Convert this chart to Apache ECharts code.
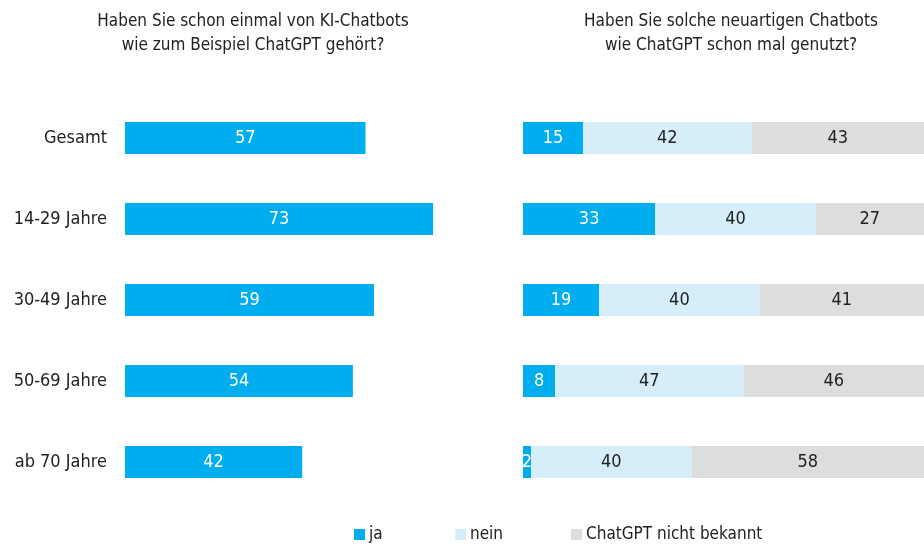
<!DOCTYPE html>
<html>
<head>
<meta charset="utf-8">
<script src="https://cdn.jsdelivr.net/npm/echarts@6/dist/echarts.min.js"></script>
<style>
  html, body { margin: 0; padding: 0; background: #fff; }
  #main { width: 924px; height: 546px; }
</style>
</head>
<body>
<div id="main"></div>
<script>
const categories = ['Gesamt', '14-29 Jahre', '30-49 Jahre', '50-69 Jahre', 'ab 70 Jahre'];
const gehoert = [57, 73, 59, 54, 42];
const ja = [15, 33, 19, 8, 2];
const nein = [42, 40, 40, 47, 40];
const nichtBekannt = [43, 27, 41, 46, 58];

const titleLeft = 'Haben Sie schon einmal von KI-Chatbots\nwie zum Beispiel ChatGPT gehört?';
const titleRight = 'Haben Sie solche neuartigen Chatbots\nwie ChatGPT schon mal genutzt?';

const FONT = '"DejaVu Sans Condensed", "Liberation Sans", sans-serif';
const BLUE = '#00aeef';
const LIGHT = '#d6eefa';
const GREY = '#dcdddf';
const TEXT = '#222222';

const chart = echarts.init(document.getElementById('main'));

const hiddenX = (max) => ({
  type: 'value', min: 0, max: max,
  axisLine: { show: false }, axisTick: { show: false },
  splitLine: { show: false }, axisLabel: { show: false }
});

const barLabel = (color) => ({
  show: true, position: 'inside', color: color,
  fontFamily: FONT, fontSize: 18
});

const legendText = { fontFamily: FONT, fontSize: 17, color: TEXT, padding: [0, 0, 0, -1] };
const titleText = { fontFamily: FONT, fontSize: 17, fontWeight: 'normal', color: TEXT, lineHeight: 24 };

const option = {
  animation: false,
  textStyle: { fontFamily: FONT },
  title: [
    { text: titleLeft, left: 248, top: 5, textAlign: 'center', textStyle: titleText },
    { text: titleRight, left: 726, top: 5, textAlign: 'center', textStyle: titleText }
  ],
  legend: [
    { data: ['ja'], left: 354, top: 526, padding: 0, itemWidth: 11, itemHeight: 11, icon: 'rect', textStyle: legendText },
    { data: ['nein'], left: 455, top: 526, padding: 0, itemWidth: 11, itemHeight: 11, icon: 'rect', textStyle: legendText },
    { data: ['ChatGPT nicht bekannt'], left: 571, top: 526, padding: 0, itemWidth: 11, itemHeight: 11, icon: 'rect', textStyle: legendText }
  ],
  grid: [
    { left: 125, top: 97.5, width: 422, height: 405 },
    { left: 523, top: 97.5, width: 401, height: 405 }
  ],
  xAxis: [
    Object.assign(hiddenX(100), { gridIndex: 0 }),
    Object.assign(hiddenX(100), { gridIndex: 1 })
  ],
  yAxis: [
    { type: 'category', gridIndex: 0, data: categories, inverse: true,
      axisLine: { show: false }, axisTick: { show: false },
      axisLabel: { margin: 18, color: TEXT, fontFamily: FONT, fontSize: 18 } },
    { type: 'category', gridIndex: 1, data: categories, inverse: true,
      axisLine: { show: false }, axisTick: { show: false }, axisLabel: { show: false } }
  ],
  series: [
    { name: 'gehört', type: 'bar', xAxisIndex: 0, yAxisIndex: 0, data: gehoert,
      barWidth: 32, itemStyle: { color: BLUE }, label: barLabel('#ffffff') },
    { name: 'ja', type: 'bar', stack: 'n', xAxisIndex: 1, yAxisIndex: 1, data: ja,
      barWidth: 32, itemStyle: { color: BLUE }, label: barLabel('#ffffff') },
    { name: 'nein', type: 'bar', stack: 'n', xAxisIndex: 1, yAxisIndex: 1, data: nein,
      barWidth: 32, itemStyle: { color: LIGHT }, label: barLabel(TEXT) },
    { name: 'ChatGPT nicht bekannt', type: 'bar', stack: 'n', xAxisIndex: 1, yAxisIndex: 1, data: nichtBekannt,
      barWidth: 32, itemStyle: { color: GREY }, label: barLabel(TEXT) }
  ]
};

chart.setOption(option);
</script>
</body>
</html>
